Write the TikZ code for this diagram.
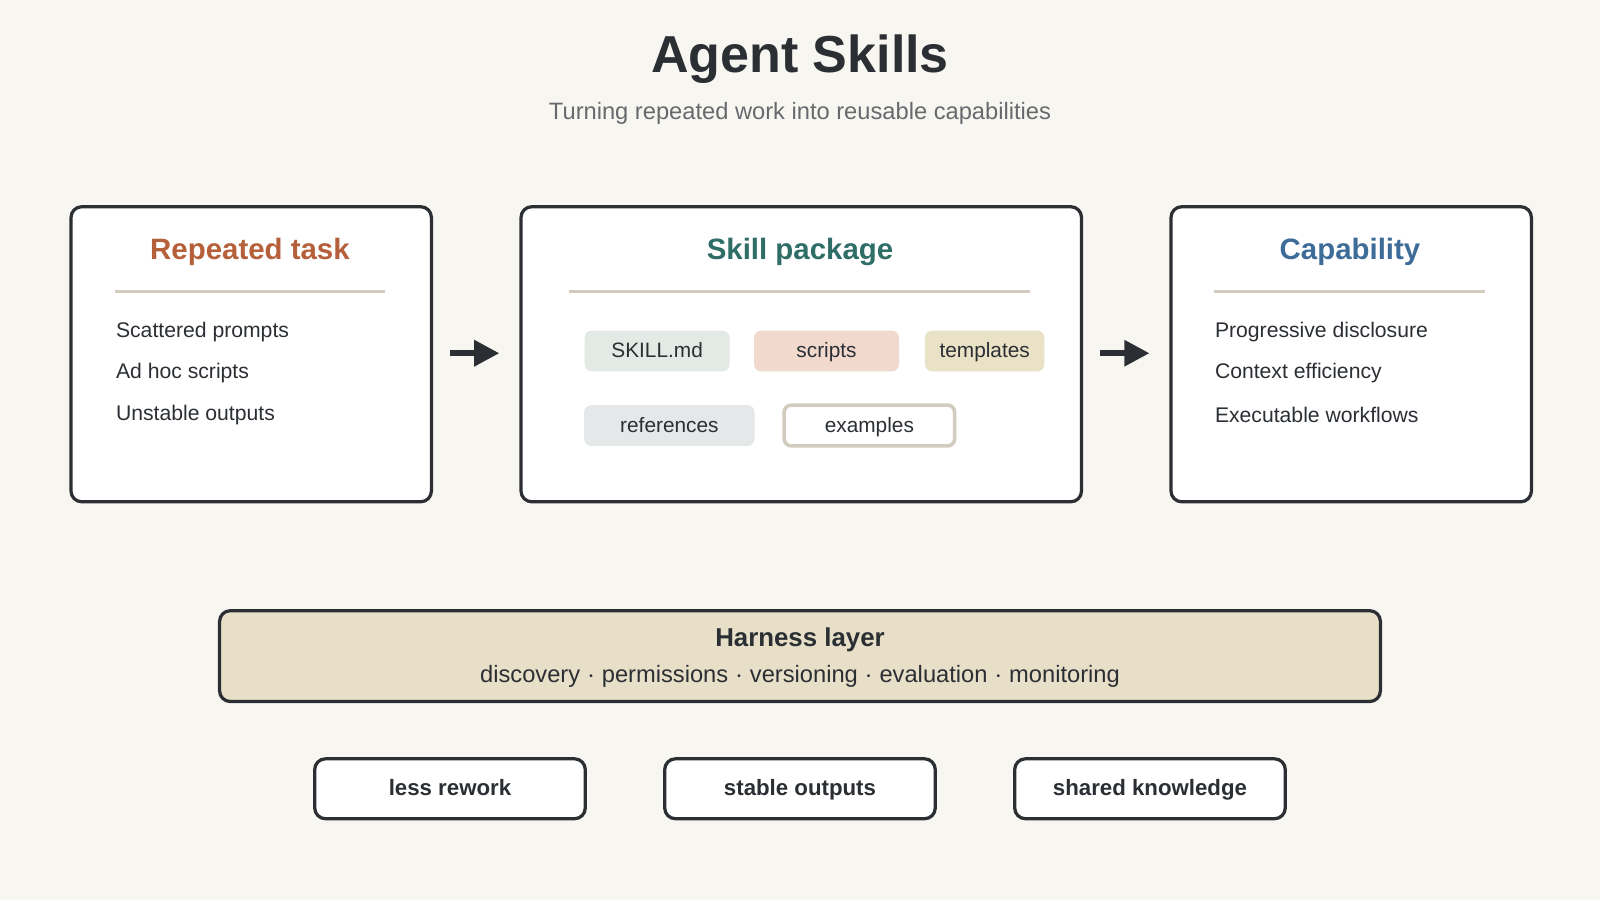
\documentclass[tikz,border=0pt]{standalone}
\usepackage{fontspec}
\setmainfont{Liberation Sans}
\usetikzlibrary{positioning,arrows.meta}
\definecolor{bgc}{HTML}{F7F6F1}
\definecolor{ink}{HTML}{2B2F33}
\definecolor{subc}{HTML}{666A6E}
\definecolor{orng}{HTML}{B5603A}
\definecolor{teal}{HTML}{2F6E66}
\definecolor{blu}{HTML}{3D6C99}
\definecolor{rulec}{HTML}{D2CCBE}
\definecolor{harn}{HTML}{E8DFC8}
\definecolor{chipA}{HTML}{E3E9E4}
\definecolor{chipB}{HTML}{F1D9CE}
\definecolor{chipC}{HTML}{EAE2C6}
\definecolor{chipD}{HTML}{E5E8E8}
\tikzset{
  panel/.style={draw=ink,line width=0.9pt,fill=white,rounded corners=3pt,anchor=north west,inner sep=0pt},
  head/.style={font=\fontsize{8.2}{10}\selectfont\bfseries},
  item/.style={font=\fontsize{5.9}{7}\selectfont,text=ink,anchor=west,inner sep=0pt},
  chip/.style={rounded corners=2pt,minimum height=0.4cm,inner sep=0pt,text height=1.3ex,text depth=0.6ex,font=\fontsize{5.8}{7}\selectfont,text=ink},
  gain/.style={draw=ink,line width=0.9pt,fill=white,rounded corners=3pt,minimum width=2.65cm,minimum height=0.57cm,text height=1.3ex,text depth=0.6ex,font=\fontsize{6.2}{7}\selectfont\bfseries,text=ink},
  flow/.style={-{Triangle[length=7pt,width=7pt]},line width=1.6pt,draw=ink}
}
\begin{document}
\begin{tikzpicture}[x=0.01cm,y=-0.01cm]
\fill[bgc] (0,0) rectangle (1568,882);
\useasboundingbox (0,0) rectangle (1568,882);
% title
\node (title) at (784,58) {\fontsize{14.5}{18}\selectfont\bfseries\color{ink}Agent Skills};
\node (subtitle) at (784,111) {\fontsize{6.6}{8}\selectfont\color{subc}Turning repeated work into reusable capabilities};
% panels
\node[panel,minimum width=3.53cm,minimum height=2.89cm] (task) at (68,201) {};
\node[panel,minimum width=5.49cm,minimum height=2.89cm] (pkg) at (509,201) {};
\node[panel,minimum width=3.53cm,minimum height=2.89cm] (cap) at (1146,201) {};
\node[head,text=orng] (taskH) at (245,247) {Repeated task};
\node[head,text=teal] (pkgH) at (784,247) {Skill package};
\node[head,text=blu] (capH) at (1323,247) {Capability};
\draw[rulec,line width=0.8pt] (113,286) -- (377,286);
\draw[rulec,line width=0.8pt] (558,286) -- (1009,286);
\draw[rulec,line width=0.8pt] (1190,286) -- (1455,286);
\node[item] (t1) at (113,325) {Scattered prompts};
\node[item] (t2) at (113,366) {Ad hoc scripts};
\node[item] (t3) at (113,407) {Unstable outputs};
\node[item] (c1) at (1190,325) {Progressive disclosure};
\node[item] (c2) at (1190,366) {Context efficiency};
\node[item] (c3) at (1190,407) {Executable workflows};
% chips
\node[chip,fill=chipA,minimum width=1.42cm] (skillmd) at (644,344) {SKILL.md};
\node[chip,fill=chipB,minimum width=1.42cm] (scripts) at (810,344) {scripts};
\node[chip,fill=chipC,minimum width=1.17cm] (templ) at (965,344) {templates};
\node[chip,fill=chipD,minimum width=1.67cm] (refs) at (656,417) {references};
\node[chip,draw=rulec,line width=1pt,fill=white,minimum width=1.67cm] (examples) at (852,417) {examples};
% arrows
\draw[flow] (task.east) ++(17,-1) coordinate (a1) -- ++(48,0);
\draw[flow] (pkg.east) ++(17,-1) coordinate (a2) -- ++(48,0);
% harness
\node[draw=ink,line width=0.9pt,fill=harn,rounded corners=3pt,minimum width=11.37cm,minimum height=0.89cm] (harness) at (784,643) {};
\node (harnH) at (784,627) {\fontsize{7.2}{8}\selectfont\bfseries\color{ink}Harness layer};
\node (harnS) at (784,663) {\fontsize{6.6}{8}\selectfont\color{ink}discovery $\cdot$ permissions $\cdot$ versioning $\cdot$ evaluation $\cdot$ monitoring};
% outcomes
\node[gain] (g1) at (441,773) {less rework};
\node[gain] (g2) at (784,773) {stable outputs};
\node[gain] (g3) at (1127,773) {shared knowledge};
\end{tikzpicture}
\end{document}
